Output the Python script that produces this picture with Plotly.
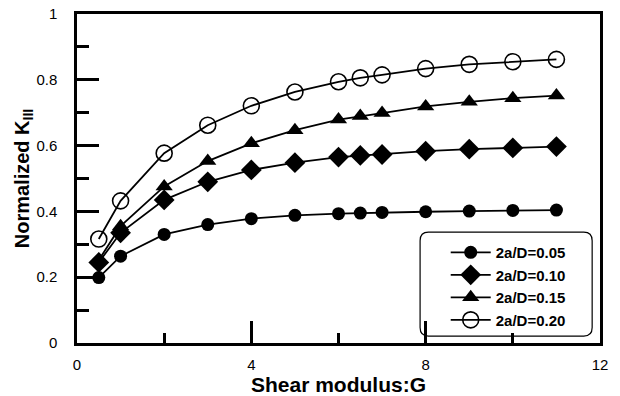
import plotly.graph_objects as go

# Data
shear_modulus = [0.5, 1, 2, 3, 4, 5, 6, 6.5, 7, 8, 9, 10, 11]
k_005 = [0.199, 0.264, 0.330, 0.360, 0.378, 0.388, 0.393, 0.395, 0.397, 0.399, 0.401, 0.403, 0.404]
k_010 = [0.245, 0.335, 0.435, 0.490, 0.526, 0.548, 0.565, 0.570, 0.573, 0.583, 0.589, 0.593, 0.597]
k_015 = [0.252, 0.355, 0.476, 0.553, 0.607, 0.647, 0.679, 0.690, 0.699, 0.719, 0.733, 0.744, 0.752]
k_020 = [0.316, 0.432, 0.577, 0.662, 0.721, 0.763, 0.794, 0.806, 0.815, 0.834, 0.847, 0.855, 0.862]
series_names = ["2a/D=0.05", "2a/D=0.10", "2a/D=0.15", "2a/D=0.20"]
y_ticks = [0, 0.2, 0.4, 0.6, 0.8, 1]
y_ticklabels = ["0", "0.2", "0.4", "0.6", "0.8", "1"]
x_ticks = [0, 4, 8, 12]
x_ticklabels = ["0", "4", "8", "12"]

FONT = "Liberation Sans, Arial, sans-serif"

fig = go.Figure()
styles = [
    dict(symbol="circle", size=13, color="black", line=dict(width=0)),
    dict(symbol="diamond", size=16, color="black", line=dict(width=0)),
    dict(symbol="triangle-up", size=15, color="black", line=dict(width=0)),
    dict(symbol="circle-open", size=16, color="black", line=dict(width=1.6, color="black")),
]
for name, ys, mk in zip(series_names, [k_005, k_010, k_015, k_020], styles):
    fig.add_trace(go.Scatter(
        x=shear_modulus, y=ys, name=name, mode="lines+markers",
        line=dict(color="black", width=1.8),
        marker=mk,
    ))

fig.update_layout(
    width=620, height=396,
    margin=dict(l=77, r=20, t=14, b=53),
    paper_bgcolor="white", plot_bgcolor="white",
    font=dict(family=FONT, color="black"),
    showlegend=True,
    legend=dict(
        x=0.705, y=0.325, xanchor="left", yanchor="top",
        bgcolor="rgba(0,0,0,0)", borderwidth=0,
        font=dict(family=FONT, size=15, color="black", weight="bold"),
        itemwidth=40, tracegroupgap=0, traceorder="normal",
    ),
)

fig.update_xaxes(
    range=[0, 12], tickvals=x_ticks, ticktext=x_ticklabels,
    showgrid=False, zeroline=False, automargin=False,
    showline=True, linewidth=2.5, linecolor="black", mirror=True,
    ticks="inside", ticklen=22, tickwidth=2.5, tickcolor="black",
    minor=dict(dtick=2, ticks="inside", ticklen=10, tickwidth=2.5, tickcolor="black"),
    tickfont=dict(family=FONT, size=15, color="black"),
    ticklabelstandoff=6, ticklabeloverflow="allow",
    title=dict(text="<b>Shear modulus:G</b>", font=dict(family=FONT, size=21, color="black"), standoff=0),
)
fig.update_yaxes(
    range=[0, 1], tickvals=y_ticks, ticktext=y_ticklabels,
    showgrid=False, zeroline=False, automargin=False,
    showline=True, linewidth=2.5, linecolor="black", mirror=True,
    ticks="inside", ticklen=22, tickwidth=2.5, tickcolor="black",
    minor=dict(dtick=0.1, ticks="inside", ticklen=12, tickwidth=2.5, tickcolor="black"),
    tickfont=dict(family=FONT, size=15, color="black"),
    ticklabelstandoff=14, ticklabeloverflow="allow",
    title=dict(text="<b>Normalized K<sub>III</sub></b>", font=dict(family=FONT, size=20, color="black"), standoff=0),
)

# Rounded legend frame (paper coordinates)
x0, x1, y0, y1 = 0.656, 0.985, 0.021, 0.337
rx, ry = 0.016, 0.026
path = (f"M {x0+rx},{y1} L {x1-rx},{y1} Q {x1},{y1} {x1},{y1-ry} "
        f"L {x1},{y0+ry} Q {x1},{y0} {x1-rx},{y0} L {x0+rx},{y0} "
        f"Q {x0},{y0} {x0},{y0+ry} L {x0},{y1-ry} Q {x0},{y1} {x0+rx},{y1} Z")
fig.add_shape(type="path", path=path, xref="paper", yref="paper",
              line=dict(color="black", width=1.2), fillcolor="rgba(0,0,0,0)", layer="above")

# remove the default 8px page margin so the 620x396 figure fills the window exactly
fig.write_html("out.html", config={"displayModeBar": False},
               post_script="document.body.style.margin='0';")
